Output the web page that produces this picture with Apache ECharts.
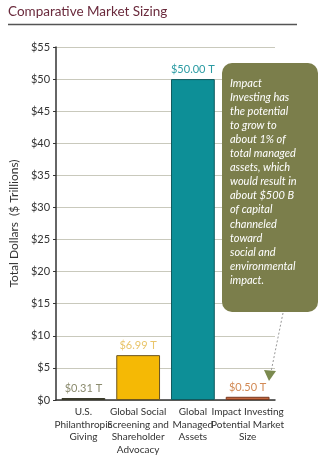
<!DOCTYPE html>
<html><head><meta charset="utf-8">
<script src="https://cdn.jsdelivr.net/npm/echarts@6/dist/echarts.min.js"></script>
<style>html,body{margin:0;padding:0;background:#fff}#c{width:333px;height:457px}</style>
</head><body><div id="c"></div>
<script>
const categories = ["U.S.\nPhilanthropic\nGiving", "Global Social\nScreening and\nShareholder\nAdvocacy", "Global\nManaged\nAssets", "Impact Investing\nPotential Market\nSize"];
const values = [0.31, 6.99, 50.00, 0.50];
const valueLabels = ["$0.31 T", "$6.99 T", "$50.00 T", "$0.50 T"];
const barColors = ["#6f6f58", "#f5b905", "#0d8f97", "#c4673e"];
const borderColors = ["#3a3a2a", "#6b5520", "#115a5e", "#7a3a20"];
const labelColors = ["#8b8b6e", "#e9c56a", "#2b9ba3", "#d28a55"];
const calloutLines = ["Impact", "Investing has", "the potential", "to grow to", "about 1% of", "total managed", "assets, which", "would result in", "about $500 B", "of capital", "channeled", "toward", "social and", "environmental", "impact."];

const chart = echarts.init(document.getElementById('c'));
const FONT = 'Lato';
chart.setOption({
  animation: false,
  backgroundColor: '#fff',
  textStyle: { fontFamily: FONT },
  grid: { left: 52, right: 58, top: 47, bottom: 57 },
  xAxis: {
    type: 'category', data: categories,
    axisLine: { lineStyle: { color: '#333', width: 1.5 } },
    axisTick: { show: false },
    axisLabel: { color: '#333', fontSize: 10, lineHeight: 12.5, interval: 0, margin: 6, fontFamily: FONT }
  },
  yAxis: {
    type: 'value', min: 0, max: 55, interval: 5,
    name: 'Total Dollars  ($ Trillions)', nameLocation: 'middle', nameGap: 35, nameRotate: 90,
    nameTextStyle: { color: '#333', fontSize: 12, fontFamily: FONT },
    axisLine: { show: true, lineStyle: { color: '#333', width: 1.5 } },
    axisTick: { show: true, length: 3, lineStyle: { color: '#333' } },
    axisLabel: { color: '#333', fontSize: 11, margin: 6, fontFamily: FONT, formatter: v => '$' + v },
    splitLine: { lineStyle: { color: '#c9c9bc', width: 1 } }
  },
  series: [{
    type: 'bar', barWidth: '80%',
    data: values.map((v, i) => ({
      value: v,
      itemStyle: { color: barColors[i], borderColor: borderColors[i], borderWidth: 1 },
      label: { show: true, position: 'top', distance: 4, formatter: valueLabels[i], color: labelColors[i], fontSize: 11, fontFamily: FONT }
    }))
  }],
  graphic: [
    { type: 'text', left: 8, top: 5, z: 100, style: { text: 'Comparative Market Sizing', fill: '#6a2a3c', fontSize: 13.5, fontFamily: FONT } },
    { type: 'line', z: 100, shape: { x1: 8, y1: 24.5, x2: 297, y2: 24.5 }, style: { stroke: '#555', lineWidth: 1.5 } },
    { type: 'rect', z: 100, shape: { x: 222, y: 63, width: 96, height: 249, r: 10 }, style: { fill: '#7b7e4b' } },
    { type: 'text', z: 101, left: 230, top: 76, style: { text: calloutLines.join('\n'), fill: '#fff', fontSize: 11, lineHeight: 14.1, fontStyle: 'italic', fontFamily: FONT } },
    { type: 'line', z: 100, shape: { x1: 283, y1: 313, x2: 271, y2: 372 }, style: { stroke: '#999', lineWidth: 1, lineDash: [2, 2] } },
    { type: 'polygon', z: 100, shape: { points: [[264, 370], [276, 371], [269, 381]] }, style: { fill: '#7b8a4f' } }
  ]
});
</script></body></html>
